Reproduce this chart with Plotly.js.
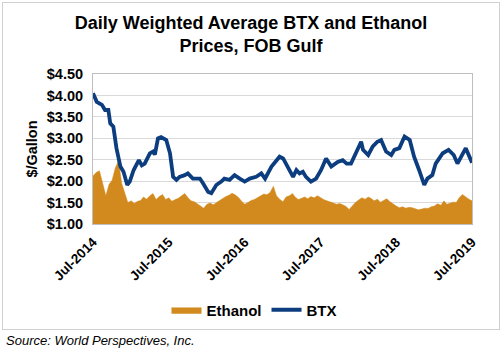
<!DOCTYPE html>
<html>
<head>
<meta charset="utf-8">
<script src="https://cdn.plot.ly/plotly-3.0.1.min.js"></script>
<style>
html,body{margin:0;padding:0;background:#fff;}
#wrap{position:relative;width:502px;height:351px;}
#chart{position:absolute;left:0;top:0;width:502px;height:351px;}
#frame{position:absolute;left:2px;top:2px;width:496px;height:326px;border:1px solid #d0d0d0;pointer-events:none;}
</style>
</head>
<body>
<div id="wrap"><div id="chart"></div><div id="frame"></div></div>
<script>
const btxDates = ["2014-07-01","2014-07-19","2014-08-13","2014-08-28","2014-09-13","2014-09-22","2014-10-07","2014-10-22","2014-11-10","2014-11-25","2014-12-13","2014-12-25","2015-01-13","2015-02-07","2015-02-21","2015-03-07","2015-04-01","2015-04-16","2015-04-25","2015-05-10","2015-05-25","2015-06-19","2015-07-07","2015-07-22","2015-08-07","2015-08-22","2015-09-16","2015-10-01","2015-10-25","2015-11-28","2015-12-13","2016-01-07","2016-01-22","2016-02-15","2016-03-10","2016-03-25","2016-04-19","2016-05-13","2016-06-07","2016-07-01","2016-07-25","2016-08-25","2016-09-19","2016-10-07","2016-11-07","2016-12-16","2017-01-02","2017-01-25","2017-02-19","2017-03-07","2017-03-22","2017-04-07","2017-04-22","2017-05-16","2017-06-10","2017-07-04","2017-07-28","2017-08-22","2017-09-22","2017-10-16","2017-11-04","2017-11-25","2017-12-19","2018-01-13","2018-01-22","2018-02-16","2018-03-10","2018-04-01","2018-04-19","2018-05-13","2018-06-07","2018-06-22","2018-07-16","2018-08-10","2018-09-04","2018-09-25","2018-10-19","2018-11-13","2018-11-28","2018-12-22","2019-01-07","2019-02-10","2019-03-10","2019-04-04","2019-04-22","2019-05-07","2019-06-01","2019-06-25","2019-07-01"];
const btxValues = [4.05,3.85,3.78,3.66,3.66,3.35,3.27,2.77,2.34,2.22,1.91,1.99,2.26,2.49,2.37,2.41,2.65,2.69,2.62,3.00,3.03,2.96,2.65,2.10,2.03,2.10,2.14,2.18,2.06,2.06,1.95,1.75,1.72,1.91,1.99,2.06,2.03,2.14,2.06,1.99,2.06,2.10,2.18,2.06,2.34,2.57,2.53,2.32,2.10,2.26,2.18,2.22,2.10,1.99,2.06,2.26,2.53,2.34,2.45,2.49,2.41,2.41,2.65,2.92,2.73,2.61,2.81,2.92,2.96,2.69,2.61,2.73,2.77,3.04,2.96,2.57,2.26,1.91,2.06,2.14,2.41,2.65,2.73,2.61,2.41,2.53,2.77,2.50,2.43];

const ethDates = ["2014-07-01","2014-07-16","2014-08-01","2014-08-16","2014-09-01","2014-09-16","2014-10-01","2014-10-16","2014-11-01","2014-11-16","2014-12-01","2014-12-16","2015-01-01","2015-01-16","2015-02-01","2015-02-16","2015-03-01","2015-03-16","2015-04-01","2015-04-16","2015-05-01","2015-05-16","2015-06-01","2015-06-16","2015-07-01","2015-07-16","2015-08-01","2015-08-16","2015-09-01","2015-09-16","2015-10-01","2015-10-16","2015-11-01","2015-11-16","2015-12-01","2015-12-16","2016-01-01","2016-01-16","2016-02-01","2016-02-16","2016-03-01","2016-03-16","2016-04-01","2016-04-16","2016-05-01","2016-05-16","2016-06-01","2016-06-16","2016-07-01","2016-07-16","2016-08-01","2016-08-16","2016-09-01","2016-09-16","2016-10-01","2016-10-16","2016-11-01","2016-11-16","2016-12-01","2016-12-16","2017-01-01","2017-01-16","2017-02-01","2017-02-16","2017-03-01","2017-03-16","2017-04-01","2017-04-16","2017-05-01","2017-05-16","2017-06-01","2017-06-16","2017-07-01","2017-07-16","2017-08-01","2017-08-16","2017-09-01","2017-09-16","2017-10-01","2017-10-16","2017-11-01","2017-11-16","2017-12-01","2017-12-16","2018-01-01","2018-01-16","2018-02-01","2018-02-16","2018-03-01","2018-03-16","2018-04-01","2018-04-16","2018-05-01","2018-05-16","2018-06-01","2018-06-16","2018-07-01","2018-07-16","2018-08-01","2018-08-16","2018-09-01","2018-09-16","2018-10-01","2018-10-16","2018-11-01","2018-11-16","2018-12-01","2018-12-16","2019-01-01","2019-01-16","2019-02-01","2019-02-16","2019-03-01","2019-03-16","2019-04-01","2019-04-16","2019-05-01","2019-05-16","2019-06-01","2019-06-16","2019-07-01"];
const ethValues = [2.12,2.20,2.24,1.95,1.66,1.92,2.02,2.30,2.48,1.95,1.70,1.50,1.54,1.48,1.53,1.55,1.63,1.58,1.66,1.71,1.57,1.64,1.69,1.57,1.61,1.53,1.57,1.60,1.66,1.71,1.62,1.54,1.52,1.48,1.42,1.37,1.46,1.49,1.45,1.50,1.55,1.60,1.64,1.67,1.72,1.68,1.62,1.53,1.46,1.50,1.55,1.57,1.61,1.66,1.70,1.68,1.74,1.88,1.66,1.58,1.52,1.63,1.66,1.71,1.63,1.57,1.60,1.63,1.59,1.64,1.61,1.66,1.62,1.57,1.54,1.52,1.49,1.46,1.48,1.45,1.41,1.34,1.43,1.50,1.56,1.61,1.58,1.63,1.60,1.54,1.58,1.51,1.55,1.59,1.52,1.46,1.42,1.38,1.40,1.37,1.39,1.38,1.36,1.33,1.35,1.37,1.36,1.40,1.42,1.47,1.44,1.54,1.46,1.49,1.51,1.50,1.62,1.69,1.63,1.58,1.54];

const yTickVals = [1.0,1.5,2.0,2.5,3.0,3.5,4.0,4.5];
const yTickText = ["$1.00","$1.50","$2.00","$2.50","$3.00","$3.50","$4.00","$4.50"];

const FONT = "Arial, 'Liberation Sans', sans-serif";
const PW = 379, PH = 150; // plot size for paper-coordinate placement

const traces = [
  {x: ethDates, y: ethValues, name: "Ethanol", type: "scatter", mode: "lines",
   fill: "tozeroy", fillcolor: "#D28A1E", line: {color: "#D28A1E", width: 0.5}},
  {x: btxDates, y: btxValues, name: "BTX", type: "scatter", mode: "lines",
   line: {color: "#0C3D7E", width: 3.8}}
];

const layout = {
  width: 502, height: 351,
  margin: {l: 93, r: 30, t: 74, b: 127},
  paper_bgcolor: "rgba(0,0,0,0)", plot_bgcolor: "#ffffff",
  font: {family: FONT, color: "#000"},
  title: {text: "Daily Weighted Average BTX and Ethanol<br>Prices, FOB Gulf",
          font: {family: FONT, size: 18, weight: "bold", color: "#000"},
          x: 0.5, xanchor: "center", y: 1 - 29 / 351, yanchor: "middle", yref: "container"},
  xaxis: {type: "date", range: ["2014-07-01", "2019-07-01"], tick0: "2014-07-01", dtick: "M12",
          tickformat: "%b-%Y", tickangle: -45, showgrid: false, ticklabelstandoff: 4,
          tickfont: {family: FONT, size: 13.5, weight: "bold"},
          showline: true, linecolor: "#BFBFBF", linewidth: 1, mirror: true, ticks: "", zeroline: false},
  yaxis: {range: [1, 4.5], tickmode: "array", tickvals: yTickVals, ticktext: yTickText,
          tickfont: {family: FONT, size: 14.5, weight: "bold"}, ticklabelstandoff: 6,
          gridcolor: "#D9D9D9", gridwidth: 1, showline: true, linecolor: "#BFBFBF", mirror: true,
          zeroline: false, ticks: "",
          title: {text: "$/Gallon", font: {family: FONT, size: 14.5, weight: "bold"}, standoff: 5}},
  showlegend: true,
  legend: {orientation: "h", x: (254 - 93) / PW, xanchor: "center", y: (224 - 310) / PH, yanchor: "middle",
           font: {family: FONT, size: 15, weight: "bold"}, traceorder: "normal", itemwidth: 30},
  annotations: [{xref: "paper", yref: "paper", x: (4 - 93) / PW, y: (224 - 340) / PH,
                 xanchor: "left", yanchor: "middle", showarrow: false,
                 text: "Source: World Perspectives, Inc.",
                 font: {family: FONT, size: 13, style: "italic", color: "#000"}}]
};

Plotly.newPlot("chart", traces, layout, {staticPlot: true, displayModeBar: false});
</script>
</body>
</html>
